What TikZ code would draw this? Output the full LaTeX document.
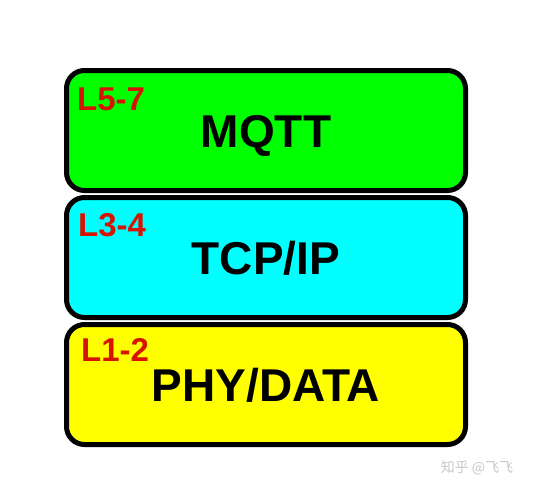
\documentclass[tikz,border=0pt]{standalone}
\usepackage{fontspec}
\setmainfont{Liberation Sans}
\newfontfamily\cjkfont{Noto Sans CJK SC}
\usetikzlibrary{positioning}
\definecolor{tagred}{RGB}{215,20,0}
\definecolor{appgreen}{RGB}{0,255,0}
\definecolor{netcyan}{RGB}{0,255,255}
\definecolor{phyyellow}{RGB}{255,255,0}
\tikzset{
    layer/.style =  {rectangle,
                    rounded corners=18pt,
                    draw=black,
                    text=black,
                    line width=5pt,
                    minimum width=399pt,
                    minimum height=120pt,
                    text height=33pt,
                    text depth=0pt,
                    font=\bfseries\fontsize{46}{50}\selectfont},
    tag/.style =    {text=tagred,
                    inner sep=0pt,
                    anchor=north west,
                    font=\bfseries\fontsize{33}{36}\selectfont},
    stamp/.style =  {text=black!22,
                    inner sep=0pt,
                    font=\cjkfont\fontsize{14}{16}\selectfont},
    node distance=2pt}

\begin{document}
\begin{tikzpicture}[x=1pt,y=-1pt]
                \useasboundingbox (0,0) rectangle (533,490);
                \node[layer,fill=appgreen]  (app)   at (266,130.5)      {MQTT};
                \node[layer,fill=netcyan]   (trans) [below=of app]      {TCP/IP};
                \node[layer,fill=phyyellow] (phy)   [below=of trans]    {PHY/DATA};

                \node[tag] (appTag)   at ([xshift=13pt,yshift=-20pt]app.north west)   {L5-7};
                \node[tag] (transTag) at ([xshift=14pt,yshift=-18pt]trans.north west) {L3-4};
                \node[tag] (phyTag)   at ([xshift=17pt,yshift=-16pt]phy.north west)   {L1-2};

                \node[stamp] (credit) at (477,468) {知乎 @飞飞};
        \end{tikzpicture}
\end{document}
